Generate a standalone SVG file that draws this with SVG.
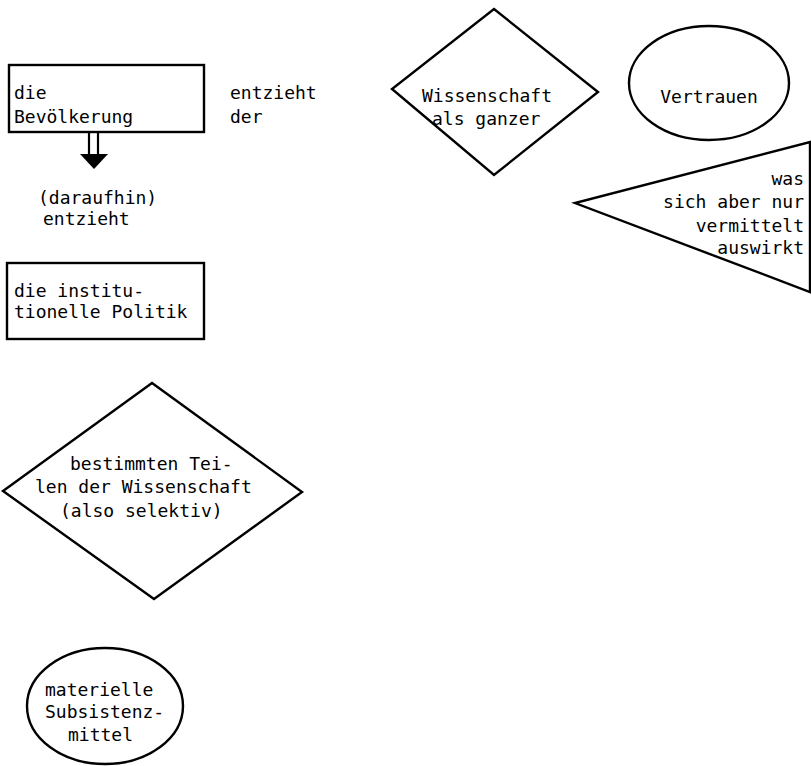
<svg xmlns="http://www.w3.org/2000/svg" width="811" height="766" viewBox="0 0 811 766">
<style>
.s{fill:none;stroke:#000;stroke-width:2.4;stroke-linejoin:miter}
.t{font-family:"DejaVu Sans Mono","Liberation Mono",monospace;font-size:18px;fill:#000}
.r{text-anchor:end}
</style>
<rect width="811" height="766" fill="#fff"/>
<g id="bevoelkerung">
<rect class="s" x="9" y="65" width="195" height="67"/>
<text class="t" x="14" y="99">die</text>
<text class="t" x="14" y="123">Bevölkerung</text>
</g>
<g id="label-entzieht-der">
<text class="t" x="230" y="99">entzieht</text>
<text class="t" x="230" y="123">der</text>
</g>
<g id="connectors">
<line x1="89" y1="132" x2="89" y2="154" stroke="#000" stroke-width="2.2"/>
<line x1="98" y1="132" x2="98" y2="154" stroke="#000" stroke-width="2.2"/>
<polygon points="80,154 108,154 94,169" fill="#000"/>
</g>
<g id="label-daraufhin">
<text class="t" x="38" y="204">(daraufhin)</text>
<text class="t" x="43" y="225">entzieht</text>
</g>
<g id="politik">
<rect class="s" x="7" y="263" width="197" height="76"/>
<text class="t" x="14" y="297">die institu-</text>
<text class="t" x="14" y="318">tionelle Politik</text>
</g>
<g id="wissenschaft-ganzer">
<polygon class="s" points="494,9 598,92 494,175 392,89"/>
<text class="t" x="422" y="102">Wissenschaft</text>
<text class="t" x="432" y="125">als ganzer</text>
</g>
<g id="vertrauen">
<ellipse class="s" cx="709" cy="83" rx="80" ry="57"/>
<text class="t" x="709" y="103" text-anchor="middle">Vertrauen</text>
</g>
<g id="vermittelt">
<polygon class="s" points="810,142 810,292 575,203"/>
<text class="t r" x="804" y="185">was</text>
<text class="t r" x="804" y="208">sich aber nur</text>
<text class="t r" x="804" y="232">vermittelt</text>
<text class="t r" x="804" y="254">auswirkt</text>
</g>
<g id="teile-wissenschaft">
<polygon class="s" points="152,383 302,492 154,599 3,491"/>
<text class="t" x="70" y="470">bestimmten Tei-</text>
<text class="t" x="35" y="493">len der Wissenschaft</text>
<text class="t" x="60" y="517">(also selektiv)</text>
</g>
<g id="subsistenzmittel">
<ellipse class="s" cx="105" cy="706" rx="78" ry="58"/>
<text class="t" x="45" y="696">materielle</text>
<text class="t" x="45" y="718">Subsistenz-</text>
<text class="t" x="68" y="741">mittel</text>
</g>
</svg>
